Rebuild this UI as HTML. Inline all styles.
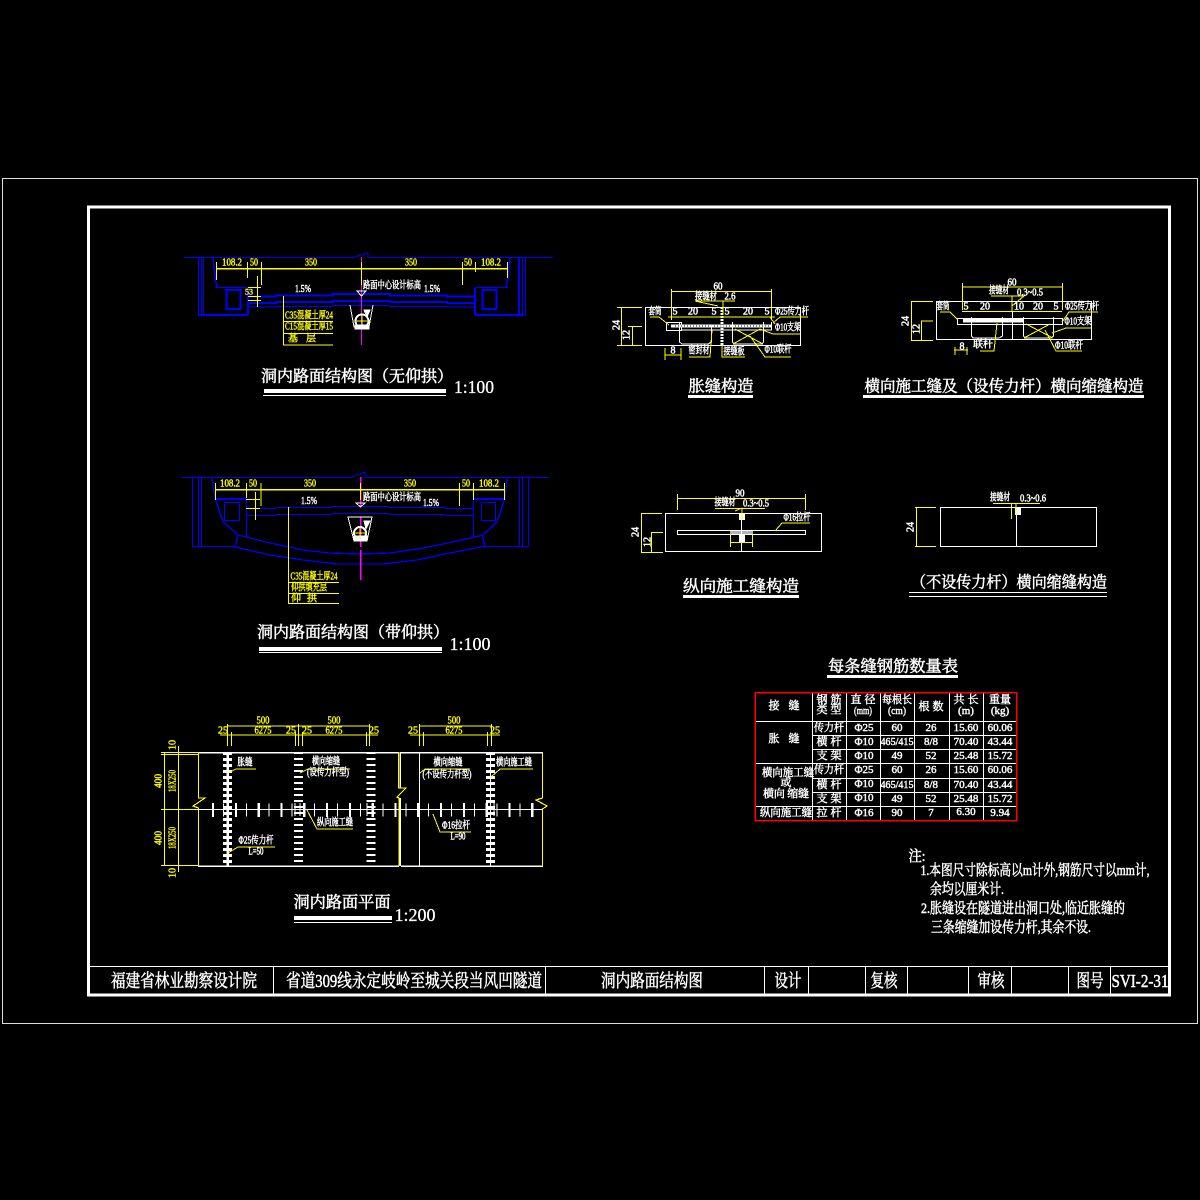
<!DOCTYPE html>
<html lang="zh"><head><meta charset="utf-8"><title>洞内路面结构图</title>
<style>
html,body{margin:0;padding:0;background:#000;width:1200px;height:1200px;overflow:hidden}
svg{display:block}
path,rect,circle{shape-rendering:crispEdges}
.l{fill:none}
.c{fill:none}
.w{stroke:#fff}.y{stroke:#ff0}.b{stroke:#00f}.m{stroke:#f0f}.r{stroke:#f00}
text{font-family:"Liberation Serif","Noto Serif CJK SC",serif;dominant-baseline:central;text-anchor:middle}
.tw{fill:#fff;stroke:#fff;stroke-width:.5}
.ty{fill:#ff0;stroke:#ff0;stroke-width:.4}
.s{font-size:10px}.t{font-size:16px}.sc{font-size:18px;stroke-width:.3}
.tb{font-size:11px;stroke-width:.45}.no{font-size:15px}.tt{font-size:18px}
</style></head><body>
<svg width="1200" height="1200" viewBox="0 0 1200 1200" xmlns="http://www.w3.org/2000/svg">
<rect width="1200" height="1200" fill="#000"/>
<!-- frames -->
<rect x="2.5" y="178.5" width="1195" height="845" fill="none" stroke="#ddd" stroke-width="1"/>
<rect x="88.5" y="207" width="1081" height="788" fill="none" stroke="#fff" stroke-width="3"/>
<path class="l w" d="M88 966.5H1170M273.5 967V994M545.5 967V994M764.5 967V994M808.5 967V994M865.5 967V994M907.5 967V994M968.5 967V994M1011.5 967V994M1068.5 967V994M1110.5 967V994"/>
<g class="tw tt">
<text x="184" y="981" textLength="146" lengthAdjust="spacingAndGlyphs">福建省林业勘察设计院</text>
<text x="414" y="981" textLength="256" lengthAdjust="spacingAndGlyphs">省道309线永定岐岭至城关段当风凹隧道</text>
<text x="652" y="981" textLength="102" lengthAdjust="spacingAndGlyphs">洞内路面结构图</text>
<text x="788" y="981" textLength="27" lengthAdjust="spacingAndGlyphs">设计</text>
<text x="884" y="981" textLength="27" lengthAdjust="spacingAndGlyphs">复核</text>
<text x="991" y="981" textLength="27" lengthAdjust="spacingAndGlyphs">审核</text>
<text x="1090" y="981" textLength="27" lengthAdjust="spacingAndGlyphs">图号</text>
<text x="1140" y="981" textLength="57" lengthAdjust="spacingAndGlyphs">SVI-2-31</text>
</g>

<!-- section 1 -->
<g class="l b" stroke-width="1">
<path d="M184 257.5H353L368 253V257.5H553"/>
<path d="M198.5 257V315M201.5 257V314M203.5 257V314M519.5 257V314M522.5 257V314M525.5 257V315"/>
<path d="M224 289.5H242M482 289.5H498M215 287.5H248M475 287.5H508"/>
<path d="M248 307H276V306.5H333V305.5H390V306.5H447V307H475"/>
</g>
<g class="l b" stroke-width="2">
<path d="M198 315H248M475 315H525"/>
<path d="M248 296.5H276V295.5H333V294H390V295.5H447V296.5H475"/>
<path d="M248 303H276V302H333V301H390V302H447V303H475"/>
<rect x="226.5" y="290" width="14" height="19"/><rect x="482.5" y="290" width="14" height="19"/>
<path d="M248 288V315M475 288V315M519 257V314"/>
</g>
<path class="c b" d="M213 257L215 277L217 287M510 257L508 277L506 287" stroke-width="1.5"/>
<path class="l m" stroke-width="1" d="M361.5 257V345"/>
<g class="l y" stroke-width="1">
<path d="M216 268.5H507" stroke-width="1.5"/>
<path d="M216.5 262V280M247.5 262V278M261.5 262V285M361.5 262V285M462.5 262V285M475.5 262V272M507.5 262V278"/>
<path d="M257.5 276V307M248 287.5H261M248 296.5H261M248 300.5H261"/>
<path d="M283.5 296V345M283 321.5H333M283 333.5H333M283 345H333"/>
</g>
<g class="ty s">
<text x="232" y="263" textLength="20" lengthAdjust="spacingAndGlyphs">108.2</text><text x="254" y="263" textLength="8" lengthAdjust="spacingAndGlyphs">50</text><text x="311" y="263" textLength="12" lengthAdjust="spacingAndGlyphs">350</text><text x="411" y="263" textLength="12" lengthAdjust="spacingAndGlyphs">350</text><text x="468" y="263" textLength="8" lengthAdjust="spacingAndGlyphs">50</text><text x="491" y="263" textLength="20" lengthAdjust="spacingAndGlyphs">108.2</text>
<text x="249" y="292" font-size="8">53</text>
<text x="309" y="316" textLength="48" lengthAdjust="spacingAndGlyphs">C35混凝土厚24</text>
<text x="309" y="327" textLength="48" lengthAdjust="spacingAndGlyphs">C15混凝土厚15</text>
<text x="302" y="339" textLength="28" lengthAdjust="spacing">基 层</text>
</g>
<g class="tw s">
<text x="303" y="289" font-size="11" textLength="16" lengthAdjust="spacingAndGlyphs">1.5%</text><text x="432" y="289" font-size="11" textLength="16" lengthAdjust="spacingAndGlyphs">1.5%</text>
<text x="392" y="286" textLength="58" lengthAdjust="spacingAndGlyphs">路面中心设计标高</text>
</g>
<path d="M357 291H366L361.5 296Z" fill="none" stroke="#fff"/>
<g fill="none" stroke="#fff"><path d="M350 305L354 327H369L373 305"/><circle cx="362" cy="321" r="6.5" stroke-width="2"/><path d="M362 314V328M355 321H369" stroke="#ff0"/><path d="M364 310H370L367 317Z" fill="#fff"/><path d="M355 325H369V329H355Z" fill="#fff"/></g>
<text class="tw t" x="357" y="377" textLength="192" lengthAdjust="spacingAndGlyphs">洞内路面结构图（无仰拱）</text>
<rect x="264" y="389" width="182" height="4" fill="#fff"/><rect x="263" y="395" width="183" height="1" fill="#fff"/>
<text class="tw sc" x="474" y="387" textLength="40" lengthAdjust="spacingAndGlyphs">1:100</text>

<!-- section 2 -->
<g class="l b" stroke-width="1">
<path d="M181 477.5H350L365 472V477.5H549"/>
<path d="M192.5 477V547M198.5 477V547M201.5 477V547M519.5 477V547M522.5 477V547M528.5 477V547"/>
<path d="M192 546.5H235M485 546.5H528"/>
<rect x="224.5" y="502.5" width="15" height="18"/><rect x="481.5" y="502.5" width="14" height="18"/>
<path d="M246.5 498V538M473.5 498V538"/>
</g>
<g class="l b" stroke-width="2"><path d="M215 499H246M473 499H504"/></g>
<g fill="none" stroke="#00f" stroke-width="1.3">
<path d="M246 508.5H275V507.5H332V506.5H389V507.5H446V508.5H473"/>
<path d="M246 515.5H275V514.5H332V513.5H389V514.5H446V515.5H473"/>
<path d="M212 478L215 498L223 522L238 535L270 543L303 550L330 553L360 554L390 553L423 548L453 542L483 535L497 522L505 498L507 478"/>
<path d="M235 547L270 555L303 560L337 564L383 564L417 560L450 553L485 546M238 535L235 547M482 535L485 546"/>
</g>
<path class="l m" stroke-width="1.5" d="M360.5 477V508M360.5 517V581" stroke-dasharray="30 3"/>
<g class="l y" stroke-width="1">
<path d="M215 489.5H505" stroke-width="1.5"/>
<path d="M215.5 483V500M246.5 483V498M261 483V506M360.5 483V500M459.5 483V506M473.5 483V500M504.5 483V500"/>
<path d="M255.5 492V520M246 499.5H260M246 508.5H260"/>
<path d="M288.5 507V603M288 582.5H339M288 593.5H339M288 603.5H339"/>
</g>
<g class="ty s">
<text x="230" y="484" textLength="20" lengthAdjust="spacingAndGlyphs">108.2</text><text x="253" y="484" textLength="8" lengthAdjust="spacingAndGlyphs">50</text><text x="310" y="484" textLength="12" lengthAdjust="spacingAndGlyphs">350</text><text x="410" y="484" textLength="12" lengthAdjust="spacingAndGlyphs">350</text><text x="466" y="484" textLength="8" lengthAdjust="spacingAndGlyphs">50</text><text x="489" y="484" textLength="20" lengthAdjust="spacingAndGlyphs">108.2</text>
<text x="314" y="577" textLength="47" lengthAdjust="spacingAndGlyphs">C35混凝土厚24</text>
<text x="309" y="588" textLength="36" lengthAdjust="spacingAndGlyphs">仰拱填充层</text>
<text x="304" y="599" textLength="26" lengthAdjust="spacing">仰 拱</text>
</g>
<g class="tw s">
<text x="309" y="501" font-size="11" textLength="16" lengthAdjust="spacingAndGlyphs">1.5%</text><text x="431" y="503" font-size="11" textLength="16" lengthAdjust="spacingAndGlyphs">1.5%</text>
<text x="392" y="498" textLength="58" lengthAdjust="spacingAndGlyphs">路面中心设计标高</text>
</g>
<path d="M356 503H365L360.5 507Z" fill="none" stroke="#fff"/>
<g fill="none" stroke="#fff"><path d="M348 517H372L367 541H354Z"/><circle cx="360" cy="533" r="6" stroke-width="2"/><path d="M364 521H370L366 529Z" fill="#fff"/><path d="M354 536H367V541H354Z" fill="#fff"/><path d="M360 527V539M354 533H366" stroke="#ff0"/></g>
<text class="tw t" x="353" y="633" textLength="192" lengthAdjust="spacingAndGlyphs">洞内路面结构图（带仰拱）</text>
<rect x="259" y="647" width="183" height="4" fill="#fff"/><rect x="259" y="652" width="183" height="1" fill="#fff"/>
<text class="tw sc" x="470" y="644" textLength="41" lengthAdjust="spacingAndGlyphs">1:100</text>

<!-- plan -->
<g class="l w" stroke-width="1">
<path d="M198 752.5H399M401 752.5H543M198 866H399M401 866H543" stroke-width="1.5"/>
<path d="M419.5 752V866M198 809.5H543"/>
<path d="M400 752V788M400 798V866" stroke-width="1.5"/>
</g>
<g fill="none" stroke="#fff">
<path d="M227.5 752V866M490.5 752V866" stroke-width="9" stroke-dasharray="3 3"/>
<path d="M298.5 752V866M371 752V866" stroke-width="9" stroke-dasharray="2 4"/>
<path d="M227.5 752V866" stroke-width="2.5"/><path d="M490.5 752V866" stroke-width="1"/>
<path d="M212 810H540" stroke-width="14" stroke-dasharray="2.2 20.6"/>
<path d="M223 810H540" stroke-width="13" stroke-dasharray="1 21.8"/>
<path d="M295 803V816M300 803V816M367 803V816M373 803V816M486 803V816M494 803V816" stroke-width="1"/>
</g>
<g fill="none" stroke="#ff0">
<path d="M198.5 752V798L205 798L193 806L198.5 808V866" stroke-width="1.2"/>
<path d="M398.5 752V788L406 788L397 797L399 798V866" stroke-width="1.2"/>
<path d="M542.5 752V798L536 800L547 806L542.5 809V866" stroke-width="1.2"/>
<path d="M227 726H369M419 726H491M227 735H369M419 735H491M220 735H232M294 735H304M364 735H378M410 735H424M486 735H500" stroke-width="1"/>
<path d="M227.5 724V746M231.5 732V746M295.5 732V746M298.5 724V746M302.5 732V746M366.5 732V746M369.5 724V746M419.5 724V746M423.5 732V746M487.5 732V746M491.5 724V746" stroke-width="1"/>
<path d="M161 752.5H198M161 754.5H198M161 809.5H198M161 865.5H198M164.5 753V866M178.5 746V872" stroke-width="1"/>
<path d="M228 773L236 769H256M300 773L308 769H350M420 773L425 769H470M491 777L500 769H533M228 853L238 847H275M307 810L317 829H353M433 814L440 832H471" stroke-width="1"/>
</g>
<g class="ty s">
<text x="263" y="721" textLength="13" lengthAdjust="spacingAndGlyphs">500</text><text x="334" y="721" textLength="13" lengthAdjust="spacingAndGlyphs">500</text><text x="454" y="721" textLength="13" lengthAdjust="spacingAndGlyphs">500</text>
<text x="263" y="731" textLength="17" lengthAdjust="spacingAndGlyphs">6275</text><text x="334" y="731" textLength="17" lengthAdjust="spacingAndGlyphs">6275</text><text x="454" y="731" textLength="17" lengthAdjust="spacingAndGlyphs">6275</text>
<text x="223" y="731">25</text><text x="291" y="731">25</text><text x="307" y="731">25</text><text x="374" y="731">25</text><text x="413" y="731">25</text><text x="495" y="731">25</text>
<text transform="translate(159,781) rotate(-90)" textLength="14" lengthAdjust="spacingAndGlyphs">400</text><text transform="translate(159,838) rotate(-90)" textLength="14" lengthAdjust="spacingAndGlyphs">400</text>
<text transform="translate(173,781) rotate(-90)" textLength="22" lengthAdjust="spacingAndGlyphs">18X250</text><text transform="translate(173,838) rotate(-90)" textLength="22" lengthAdjust="spacingAndGlyphs">18X250</text>
<text transform="translate(173,745) rotate(-90)">10</text><text transform="translate(173,873) rotate(-90)">10</text>
</g>
<g class="tw s">
<text x="245" y="763" textLength="15" lengthAdjust="spacingAndGlyphs">胀缝</text>
<text x="326" y="762" textLength="28" lengthAdjust="spacingAndGlyphs">横向缩缝</text>
<text x="328" y="773" textLength="42" lengthAdjust="spacingAndGlyphs">(设传力杆型)</text>
<text x="448" y="763" textLength="29" lengthAdjust="spacingAndGlyphs">横向缩缝</text>
<text x="447" y="775" textLength="49" lengthAdjust="spacingAndGlyphs">(不设传力杆型)</text>
<text x="514" y="763" textLength="36" lengthAdjust="spacingAndGlyphs">横向施工缝</text>
<text x="335" y="823" textLength="36" lengthAdjust="spacingAndGlyphs">纵向施工缝</text>
<text x="256" y="841" textLength="35" lengthAdjust="spacingAndGlyphs">Φ25传力杆</text>
<text x="256" y="852" textLength="15" lengthAdjust="spacingAndGlyphs">L=50</text>
<text x="456" y="826" textLength="28" lengthAdjust="spacingAndGlyphs">Φ16拉杆</text>
<text x="458" y="837" textLength="15" lengthAdjust="spacingAndGlyphs">L=90</text>
</g>
<text class="tw t" x="342" y="903" textLength="97" lengthAdjust="spacingAndGlyphs">洞内路面平面</text>
<rect x="294" y="916" width="98" height="4" fill="#fff"/><rect x="294" y="922" width="98" height="1" fill="#fff"/>
<text class="tw sc" x="415" y="915" textLength="41" lengthAdjust="spacingAndGlyphs">1:200</text>

<!-- detail 1 胀缝 -->
<rect x="645.5" y="307.5" width="155" height="38" fill="none" stroke="#fff"/>
<g fill="none" stroke="#fff">
<rect x="666.5" y="322.5" width="15" height="8"/>
<path d="M671 326H771" stroke-width="3"/><path d="M675 326H771" stroke="#000" stroke-dasharray="1 2" stroke-width="1"/>
<path d="M679.5 322V342L682 344H708L711.5 342V325M732.5 322V342L734 344H762L763.5 342V322M771.5 322V330H682" stroke-width="1"/>
<path d="M722 307V345" stroke-width="3" stroke-dasharray="2 1"/>
</g>
<g fill="none" stroke="#ff0" stroke-width="1">
<path d="M671.5 289V320M771.5 289V320M671 291.5H771M668 317H775"/>
<path d="M617 307.5H642M617 345.5H642M628 326.5H642M621.5 307V345M632.5 326V345"/>
<path d="M735 301H695L718 306M723 301V315"/>
<path d="M650 317H659L669 325M735 329L763 344M733 344L760 329M770 317L775 324M760 329L773 334H800M773 323L780 317H808M750 336L765 357H791M712 330L710 357H689M722 345V357H745M665 355H681M665 348V360M681 348V360"/>
</g>
<g class="tw s">
<text x="718" y="287" textLength="9" lengthAdjust="spacingAndGlyphs">60</text>
<text x="706" y="297" textLength="22" lengthAdjust="spacingAndGlyphs">接缝材</text><text x="730" y="297" textLength="11" lengthAdjust="spacingAndGlyphs">2.6</text>
<text x="655" y="312" textLength="13" lengthAdjust="spacingAndGlyphs">套筒</text>
<text x="675" y="312">5</text><text x="693" y="312">20</text><text x="714" y="312">5</text><text x="727" y="312">5</text><text x="748" y="312">20</text><text x="767" y="312">5</text>
<text x="792" y="312" textLength="34" lengthAdjust="spacingAndGlyphs">Φ25传力杆</text>
<text x="788" y="328" textLength="26" lengthAdjust="spacingAndGlyphs">Φ10支架</text>
<text x="778" y="350" textLength="27" lengthAdjust="spacingAndGlyphs">Φ10联杆</text>
<text x="699" y="351" textLength="21" lengthAdjust="spacingAndGlyphs">密封材</text>
<text x="734" y="352" textLength="21" lengthAdjust="spacingAndGlyphs">接缝板</text>
<text x="673" y="351">8</text>
<text transform="translate(617,325) rotate(-90)">24</text><text transform="translate(627,335) rotate(-90)">12</text>
</g>
<text class="tw t" x="721" y="387" textLength="65" lengthAdjust="spacingAndGlyphs">胀缝构造</text>
<rect x="688" y="395" width="65" height="3" fill="#fff"/>

<!-- detail 2 -->
<rect x="936.5" y="301.5" width="155" height="38" fill="none" stroke="#fff"/>
<g fill="none" stroke="#fff" stroke-width="1">
<rect x="957.5" y="318.5" width="105" height="6"/>
<path d="M963 320.5H1023" stroke-width="3.5"/>
<path d="M971.5 317V336L973 338H999L1002.5 336V317M1023.5 317V336L1025 338H1051L1053.5 336V317M1012.5 311V340"/>
</g>
<g fill="none" stroke="#ff0" stroke-width="1">
<path d="M962.5 283V310M1062.5 283V310M962 287H1063M962 311.5H1062"/>
<path d="M911 301.5H933M911 340.5H933M921 321H933M911.5 301V340M921.5 321V340"/>
<path d="M991 296H1024L1012 306M1012 296V311"/>
<path d="M940 312H950L958 320M1026 324L1053 338M1024 338L1050 324M1052 333L1066 328H1091M1062 322L1069 312H1098M1045 330L1056 351H1082M997 323L994 351H980M955 347V355M967 347V355M954 350H968"/>
</g>
<g class="tw s">
<text x="1012" y="283" textLength="9" lengthAdjust="spacingAndGlyphs">60</text>
<text x="999" y="291" textLength="20" lengthAdjust="spacingAndGlyphs">接缝材</text><text x="1030" y="293" textLength="26" lengthAdjust="spacingAndGlyphs">0.3~0.5</text>
<text x="943" y="307" textLength="13" lengthAdjust="spacingAndGlyphs">套筒</text>
<text x="966" y="307">5</text><text x="985" y="307">20</text><text x="1019" y="307">10</text><text x="1038" y="307">20</text><text x="1056" y="307">5</text>
<text x="1082" y="307" textLength="34" lengthAdjust="spacingAndGlyphs">Φ25传力杆</text>
<text x="1078" y="322" textLength="27" lengthAdjust="spacingAndGlyphs">Φ10支架</text>
<text x="1069" y="346" textLength="28" lengthAdjust="spacingAndGlyphs">Φ10联杆</text>
<text x="983" y="345" textLength="20" lengthAdjust="spacingAndGlyphs">联杆</text>
<text x="962" y="347">8</text>
<text transform="translate(906,321) rotate(-90)">24</text><text transform="translate(917,329) rotate(-90)">12</text>
</g>
<text class="tw t" x="1004" y="387" textLength="279" lengthAdjust="spacingAndGlyphs">横向施工缝及（设传力杆）横向缩缝构造</text>
<rect x="863" y="395" width="281" height="3" fill="#fff"/>

<!-- detail 3 -->
<g fill="none" stroke="#fff" stroke-width="1">
<rect x="665.5" y="513.5" width="156" height="38"/>
<rect x="677.5" y="530.5" width="128" height="4"/>
<path d="M741.5 513V552"/>
</g>
<rect x="739" y="513" width="6" height="7" fill="#fff"/><rect x="739" y="534" width="6" height="9" fill="#fff"/><rect x="730" y="531" width="23" height="3" fill="#fff" opacity=".7"/>
<g fill="none" stroke="#ff0" stroke-width="1">
<path d="M677.5 494V510M805.5 494V510M677 498.5H806"/>
<path d="M641 513.5H662M641 552.5H663M651 532.5H663M641.5 513V552M651.5 532V552"/>
<path d="M715 508.5H765M735 511L742 508V520M730.5 534V547M752.5 534V547M730 542.5H753M775 531L782 523H810"/>
</g>
<g class="tw s">
<text x="740" y="494" textLength="9" lengthAdjust="spacingAndGlyphs">90</text>
<text x="725" y="503" textLength="21" lengthAdjust="spacingAndGlyphs">接缝材</text><text x="756" y="504" textLength="26" lengthAdjust="spacingAndGlyphs">0.3~0.5</text>
<text x="797" y="518" textLength="27" lengthAdjust="spacingAndGlyphs">Φ16拉杆</text>
<text transform="translate(636,532) rotate(-90)">24</text><text transform="translate(648,542) rotate(-90)">12</text>
</g>
<text class="tw t" x="741" y="587" textLength="116" lengthAdjust="spacingAndGlyphs">纵向施工缝构造</text>
<rect x="683" y="595" width="116" height="3" fill="#fff"/>

<!-- detail 4 -->
<rect x="940.5" y="507.5" width="156" height="39" fill="none" stroke="#fff"/>
<path d="M1016.5 507V547" stroke="#fff" fill="none"/><rect x="1015" y="507" width="6" height="8" fill="#fff"/>
<g fill="none" stroke="#ff0" stroke-width="1">
<path d="M915 507.5H936M915 546.5H936M916.5 507V546M1011.5 503V519M1016 503V515M993 503.5H1040"/>
</g>
<g class="tw s">
<text x="1000" y="498" textLength="20" lengthAdjust="spacingAndGlyphs">接缝材</text><text x="1033" y="499" textLength="26" lengthAdjust="spacingAndGlyphs">0.3~0.6</text>
<text transform="translate(911,527) rotate(-90)">24</text>
</g>
<text class="tw t" x="1009" y="583" textLength="196" lengthAdjust="spacingAndGlyphs">（不设传力杆）横向缩缝构造</text>
<path class="l w" d="M909 592.5H1107M909 596.5H1107"/>

<!-- table -->
<text class="tw t" x="893" y="667" textLength="130" lengthAdjust="spacingAndGlyphs">每条缝钢筋数量表</text>
<rect x="827" y="675" width="131" height="3" fill="#fff"/>
<g class="l w">
<path d="M812.5 692V820M846.5 692V820M880.5 692V820M914.5 692V820M949.5 692V820M983.5 692V820"/>
<path d="M755 721.5H1016M812 735.5H1016M812 749.5H1016M755 763.5H1016M812 778.5H1016M812 792.5H1016M755 806.5H1016"/>
</g>
<rect x="755" y="692.5" width="261.5" height="128" fill="none" stroke="#f00" stroke-width="1.5"/>
<g class="tw tb">
<text x="784" y="706" textLength="31" lengthAdjust="spacing">接  缝</text>
<text x="829" y="700" textLength="25" lengthAdjust="spacing">钢 筋</text><text x="829" y="710" textLength="25" lengthAdjust="spacing">类 型</text>
<text x="863" y="700" textLength="25" lengthAdjust="spacing">直 径</text><text x="863" y="711" textLength="18" lengthAdjust="spacingAndGlyphs">(mm)</text>
<text x="897" y="700" textLength="30" lengthAdjust="spacingAndGlyphs">每根长</text><text x="897" y="711" textLength="18" lengthAdjust="spacingAndGlyphs">(cm)</text>
<text x="931" y="707" textLength="25" lengthAdjust="spacing">根 数</text>
<text x="966" y="700" textLength="25" lengthAdjust="spacing">共 长</text><text x="966" y="711">(m)</text>
<text x="1000" y="700" textLength="22" lengthAdjust="spacingAndGlyphs">重量</text><text x="1000" y="711">(kg)</text>
<text x="784" y="739" textLength="31" lengthAdjust="spacing">胀  缝</text>
<text x="788" y="773" textLength="52" lengthAdjust="spacingAndGlyphs">横向施工缝</text><text x="786" y="783">或</text><text x="786" y="794" textLength="46" lengthAdjust="spacing">横向 缩缝</text>
<text x="786" y="813" textLength="52" lengthAdjust="spacingAndGlyphs">纵向施工缝</text>
<text x="829" y="728" textLength="30" lengthAdjust="spacingAndGlyphs">传力杆</text><text x="829" y="742" textLength="25" lengthAdjust="spacing">横 杆</text><text x="829" y="756" textLength="25" lengthAdjust="spacing">支 架</text>
<text x="829" y="770" textLength="30" lengthAdjust="spacingAndGlyphs">传力杆</text><text x="829" y="785" textLength="25" lengthAdjust="spacing">横 杆</text><text x="829" y="799" textLength="25" lengthAdjust="spacing">支 架</text><text x="829" y="813" textLength="25" lengthAdjust="spacing">拉 杆</text>
<text x="864" y="728">Φ25</text><text x="864" y="742">Φ10</text><text x="864" y="756">Φ10</text><text x="864" y="770">Φ25</text><text x="864" y="784">Φ10</text><text x="864" y="798">Φ10</text><text x="864" y="813">Φ16</text>
<text x="897" y="728">60</text><text x="897" y="742" textLength="33" lengthAdjust="spacingAndGlyphs">465/415</text><text x="897" y="756">49</text><text x="897" y="770">60</text><text x="897" y="785" textLength="33" lengthAdjust="spacingAndGlyphs">465/415</text><text x="897" y="799">49</text><text x="897" y="813">90</text>
<text x="931" y="728">26</text><text x="931" y="742">8/8</text><text x="931" y="756">52</text><text x="931" y="770">26</text><text x="931" y="785">8/8</text><text x="931" y="799">52</text><text x="931" y="813">7</text>
<text x="966" y="728">15.60</text><text x="966" y="742">70.40</text><text x="966" y="756">25.48</text><text x="966" y="770">15.60</text><text x="966" y="785">70.40</text><text x="966" y="799">25.48</text><text x="966" y="812">6.30</text>
<text x="1000" y="728">60.06</text><text x="1000" y="742">43.44</text><text x="1000" y="756">15.72</text><text x="1000" y="770">60.06</text><text x="1000" y="785">43.44</text><text x="1000" y="799">15.72</text><text x="1000" y="813">9.94</text>
</g>

<!-- notes -->
<g class="tw no">
<text x="917" y="857" textLength="17" lengthAdjust="spacingAndGlyphs">注:</text>
<text x="1035" y="871" textLength="229" lengthAdjust="spacingAndGlyphs">1.本图尺寸除标高以m计外,钢筋尺寸以mm计,</text>
<text x="967" y="890" textLength="74" lengthAdjust="spacingAndGlyphs">余均以厘米计.</text>
<text x="1023" y="909" textLength="204" lengthAdjust="spacingAndGlyphs">2.胀缝设在隧道进出洞口处,临近胀缝的</text>
<text x="1011" y="928" textLength="160" lengthAdjust="spacingAndGlyphs">三条缩缝加设传力杆,其余不设.</text>
</g>
</svg>
</body></html>
